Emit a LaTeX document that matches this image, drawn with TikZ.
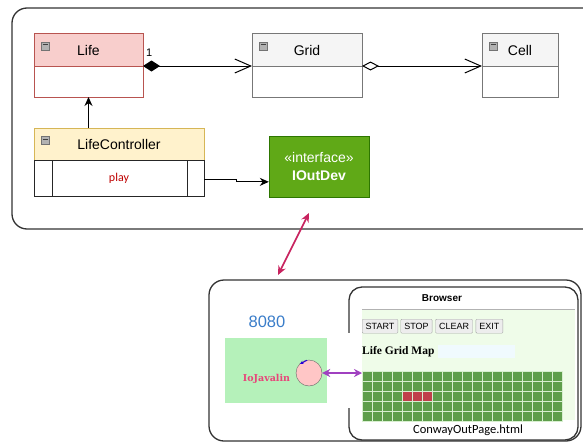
\documentclass[tikz,border=0pt]{standalone}
\usepackage{fontspec}
\setmainfont{Liberation Sans}
\newfontfamily\handfont{Carlito}
\newfontfamily\timesfont{Liberation Serif}
\newfontfamily\slabfont{DejaVu Serif}
\usepackage{tikz}
\usetikzlibrary{positioning,
				arrows.meta,
				calc}

\definecolor{lifered}{HTML}{F8CECC}
\definecolor{lifeborder}{HTML}{B85450}
\definecolor{gridgray}{HTML}{F5F5F5}
\definecolor{gridborder}{HTML}{777777}
\definecolor{ctrlyellow}{HTML}{FFF2CC}
\definecolor{ctrlborder}{HTML}{D6B656}
\definecolor{ifacegreen}{HTML}{60A917}
\definecolor{ifaceborder}{HTML}{2D7600}
\definecolor{linkred}{HTML}{C8235F}
\definecolor{linkpurple}{HTML}{A040C0}
\definecolor{portblue}{HTML}{3A7DC9}
\definecolor{javgreen}{HTML}{B5F1BA}
\definecolor{javpink}{HTML}{E8457A}
\definecolor{pagegreen}{HTML}{EFFCE9}
\definecolor{cellgreen}{HTML}{5E9E4B}
\definecolor{cellline}{HTML}{D8EFD0}
\definecolor{cellred}{HTML}{C0404A}

\tikzset{
	umlhead/.style={draw, outer sep=0pt, inner sep=0pt, minimum height=32pt, line width=1pt,
		font=\fontsize{14}{16}\selectfont},
	umlbody/.style={draw, outer sep=0pt, inner sep=0pt, minimum height=31pt, line width=1pt, fill=white},
	minusbox/.style={draw=black!55, fill=black!30, minimum size=8pt, inner sep=0pt,
		path picture={\draw[black!75, line width=1pt] ([xshift=1.5pt,yshift=-3pt]path picture bounding box.north west) -- ([xshift=-1.5pt,yshift=-3pt]path picture bounding box.north east);}},
	frame/.style={draw=black!80, line width=1.3pt, rounded corners=15pt, outer sep=0pt, inner sep=0pt},
	btn/.style={draw=black!35, fill=black!7, font=\fontsize{9}{10}\selectfont, minimum height=14pt,
		inner xsep=3.5pt, inner ysep=0pt, rounded corners=1pt},
}

\begin{document}
\begin{tikzpicture}[x=1pt,y=-1pt]
		\useasboundingbox (0,0) rectangle (583,444);
		% model part
		\node[frame, minimum width=598pt, minimum height=221pt] (model) at (311,118.5) {};
		\node[umlhead, fill=lifered, draw=lifeborder, minimum width=109pt] (life) at (88.5,50) {Life};
		\node[umlbody, draw=lifeborder, minimum width=109pt, below=0pt of life] (lifebody) {};
		\node[umlhead, fill=gridgray, draw=gridborder, minimum width=110pt] (grid) at (307,50) {Grid};
		\node[umlbody, draw=gridborder, minimum width=110pt, below=0pt of grid] (gridbody) {};
		\node[umlhead, fill=gridgray, draw=gridborder, minimum width=76pt] (cell) at (520,50) {Cell};
		\node[umlbody, draw=gridborder, minimum width=76pt, below=0pt of cell] (cellbody) {};
		\node[umlhead, fill=ctrlyellow, draw=ctrlborder, minimum width=170pt] (ctrl) at (119,144) {LifeController};
		\node[umlbody, draw=black!85, minimum width=170pt, minimum height=36pt, below=0pt of ctrl,
			text=red!75!black, font=\handfont\fontsize{12}{13}\selectfont] (ctrlbody) {play};
		\draw[black!85, line width=1pt] ($(ctrlbody.north west)+(18,0)$) -- ($(ctrlbody.south west)+(18,0)$);
		\draw[black!85, line width=1pt] ($(ctrlbody.north east)+(-17,0)$) -- ($(ctrlbody.south east)+(-17,0)$);
		\foreach \cls in {life,grid,cell,ctrl}
			\node[minusbox] at ($(\cls.north west)+(11,12)$) {};
		\node[draw=ifaceborder, fill=ifacegreen, text=white, minimum width=100pt, minimum height=61pt,
			align=center, font=\fontsize{14}{18}\selectfont] (iout) at (319,166.5) {«interface»\\\textbf{IOutDev}};

		\draw[line width=1pt, {Diamond[length=17pt,width=11pt]}-{Straight Barb[length=16pt,width=14pt]}] (life.south east) -- (grid.south west);
		\node[anchor=south west, inner sep=0pt, font=\fontsize{11}{12}\selectfont] (mult) at ($(life.south east)+(3,-9)$) {1};
		\draw[line width=1pt, {Diamond[open,length=17pt,width=9pt]}-{Straight Barb[length=16pt,width=14pt]}] (grid.south east) -- (cell.south west);
		\draw[line width=1pt, -{Stealth[length=9pt,width=8pt]}] (ctrl.north -| lifebody.south) -- (lifebody.south);
		\draw[line width=1pt, -{Stealth[length=9pt,width=8pt]}] ($(ctrlbody.north east)!0.55!(ctrlbody.south east)$) -- ++(32,0) |- ($(iout.south west)!0.25!(iout.north west)$);

		% link between the two parts
		\coordinate (magtop) at (309,213);
		\coordinate (magbot) at (278,275);
		\draw[linkred, line width=1.6pt, {Stealth[length=9pt,width=8pt]}-{Stealth[length=9pt,width=8pt]}] (magbot) -- (magtop);

		% server part
		\node[frame, minimum width=372pt, minimum height=161pt] (server) at (395,360.5) {};
		\node[fill=pagegreen, minimum width=213pt, minimum height=111pt, anchor=north west, inner sep=0pt] (page) at (362,309) {};
		\draw[black!30] (page.north west) -- (page.north east);
		\node[frame, rounded corners=13pt, minimum width=229pt, minimum height=153pt] (browser) at (463.5,363.5) {};
		\fill[white] (346,333) rectangle (352,408);
		\node[font=\bfseries\fontsize{10}{12}\selectfont] (brtitle) at (442,298) {Browser};
		\fill[cyan!6] (438,345) rectangle (515,358);
		\node[btn, anchor=north west] (bstart) at ($(page.north west)+(0,10)$) {START};
		\node[btn, right=2.5pt of bstart] (bstop) {STOP};
		\node[btn, right=3pt of bstop] (bclear) {CLEAR};
		\node[btn, right=3pt of bclear] (bexit) {EXIT};
		\node[anchor=west, inner sep=0pt, font=\timesfont\bfseries\fontsize{11.5}{13}\selectfont] (maptitle) at (362,352) {Life Grid Map};
		\node[minimum width=200pt, minimum height=50pt, anchor=north west, inner sep=0pt, outer sep=0pt] (lifegrid) at (362,371) {};
		\foreach \r in {0,...,4}
			\foreach \c in {0,...,19}
				\draw[cellline, fill=cellgreen, line width=0.6pt] (362+10*\c,371+10*\r) rectangle ++(10,10);
		\foreach \c in {4,5,6}
			\draw[cellline, fill=cellred, line width=0.6pt] (362+10*\c,391) rectangle ++(10,10);
		\node[font=\handfont\fontsize{12.5}{14}\selectfont] (pagename) at (468,430) {ConwayOutPage.html};

		\node[text=portblue, font=\fontsize{16.5}{18}\selectfont] (port) at (267,322) {8080};
		\node[fill=javgreen, minimum width=102pt, minimum height=65pt] (javbox) at (276,370.5) {};
		\node[text=javpink, font=\slabfont\bfseries\fontsize{9.5}{10}\selectfont] (javname) at (266.5,379) {IoJavalin};
		\node[circle, draw=black!60, fill=pink!90, minimum size=26pt, inner sep=0pt] (javport) at (309,373) {};
		\draw[blue!70!violet, line width=1pt, -{Stealth[length=3.5pt,width=3.5pt]}] ($(javport.center)+(-2,-12.8)$) -- ($(javport.center)+(-9,-9)$);
		\draw[linkpurple, line width=1.3pt, {Stealth[length=8pt,width=8pt]}-{Stealth[length=8pt,width=8pt]}] (javport.east) -- (javport.east -| lifegrid.west);
	\end{tikzpicture}
\end{document}
